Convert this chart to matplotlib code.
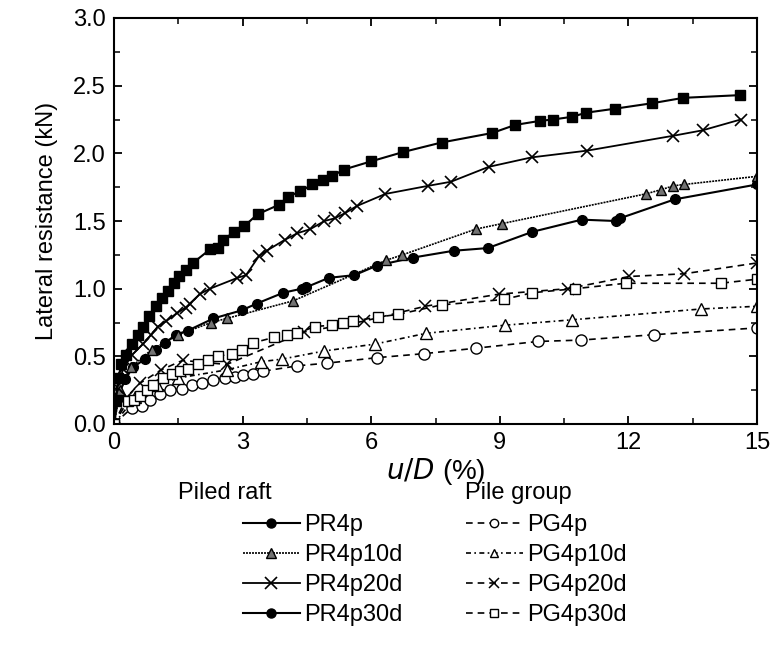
import matplotlib
matplotlib.use("Agg")
import matplotlib.pyplot as plt
import matplotlib.ticker as mticker
from matplotlib.lines import Line2D

plt.rcParams.update({
    "font.family": ["Liberation Sans Narrow", "Liberation Sans", "DejaVu Sans"],
    "axes.linewidth": 1.5,
    "xtick.direction": "in",
    "ytick.direction": "in",
    "xtick.top": True,
    "ytick.right": True,
})

# Piled raft series (u/D %, lateral resistance kN)
pr4p_x = [0, 0.1, 0.25, 0.45, 0.72, 0.97, 1.2, 1.44, 1.72, 2.32, 2.98, 3.33, 3.95,
          4.38, 4.48, 5.01, 5.61, 6.13, 6.98, 7.92, 8.72, 9.76, 10.91, 11.7, 11.8, 13.08, 15.0]
pr4p_y = [0, 0.2, 0.33, 0.42, 0.48, 0.55, 0.6, 0.66, 0.69, 0.78, 0.84, 0.89, 0.97,
          1.0, 1.01, 1.08, 1.1, 1.17, 1.23, 1.28, 1.3, 1.42, 1.51, 1.5, 1.52, 1.66, 1.77]

pr4p10d_x = [0, 0.15, 0.4, 0.88, 1.5, 2.27, 2.63, 4.18, 6.35, 6.73, 8.44, 9.04,
             12.4, 12.75, 13.05, 13.3, 15.0]
pr4p10d_y = [0, 0.25, 0.42, 0.55, 0.66, 0.75, 0.78, 0.91, 1.21, 1.25, 1.44, 1.48,
             1.7, 1.73, 1.76, 1.77, 1.83]

pr4p20d_x = [0, 0.07, 0.22, 0.42, 0.67, 0.87, 1.02, 1.22, 1.47, 1.67, 1.77, 2.0, 2.24,
             2.88, 3.08, 3.38, 3.56, 3.98, 4.28, 4.58, 4.91, 5.15, 5.4, 5.66, 6.33,
             7.33, 7.86, 8.74, 9.74, 11.04, 13.05, 13.73, 14.62]
pr4p20d_y = [0, 0.27, 0.41, 0.51, 0.59, 0.66, 0.72, 0.76, 0.82, 0.86, 0.89, 0.96, 1.0,
             1.08, 1.1, 1.24, 1.28, 1.36, 1.41, 1.44, 1.5, 1.52, 1.56, 1.61, 1.7,
             1.76, 1.79, 1.9, 1.97, 2.02, 2.13, 2.17, 2.25]

pr4p30d_x = [0, 0.04, 0.1, 0.17, 0.27, 0.42, 0.57, 0.67, 0.82, 0.97, 1.12, 1.27, 1.4,
             1.52, 1.67, 1.84, 2.24, 2.43, 2.55, 2.8, 3.03, 3.35, 3.85, 4.06, 4.35,
             4.63, 4.88, 5.08, 5.36, 5.99, 6.75, 7.64, 8.82, 9.36, 9.94, 10.24, 10.69,
             11.01, 11.69, 12.55, 13.28, 14.6]
pr4p30d_y = [0, 0.17, 0.34, 0.44, 0.51, 0.59, 0.66, 0.72, 0.8, 0.87, 0.93, 0.98, 1.04,
             1.09, 1.14, 1.19, 1.29, 1.3, 1.36, 1.42, 1.46, 1.55, 1.62, 1.68, 1.72,
             1.77, 1.8, 1.83, 1.88, 1.94, 2.01, 2.08, 2.15, 2.21, 2.24, 2.25, 2.27,
             2.3, 2.33, 2.37, 2.41, 2.43]

# Pile group series
pg4p_x = [0, 0.42, 0.65, 0.84, 1.07, 1.31, 1.58, 1.81, 2.05, 2.32, 2.59, 2.82, 3.02,
          3.25, 3.48, 4.28, 4.98, 6.13, 7.24, 8.44, 9.89, 10.89, 12.6, 15.0]
pg4p_y = [0, 0.12, 0.13, 0.18, 0.22, 0.25, 0.26, 0.29, 0.305, 0.325, 0.34, 0.345, 0.36,
          0.37, 0.39, 0.43, 0.45, 0.49, 0.52, 0.56, 0.61, 0.62, 0.66, 0.71]

pg4p10d_x = [0, 0.5, 1.0, 1.5, 2.63, 3.43, 3.93, 4.91, 6.08, 7.28, 9.12, 10.69, 13.7, 15.0]
pg4p10d_y = [0, 0.2, 0.29, 0.34, 0.4, 0.46, 0.48, 0.54, 0.59, 0.67, 0.73, 0.77, 0.85, 0.87]

pg4p20d_x = [0, 0.3, 0.6, 1.1, 1.6, 2.63, 4.43, 5.83, 7.26, 8.99, 10.59, 12.02, 13.3, 15.0]
pg4p20d_y = [0, 0.2, 0.3, 0.4, 0.47, 0.44, 0.68, 0.76, 0.87, 0.96, 1.0, 1.09, 1.11, 1.19]

pg4p30d_x = [0, 0.32, 0.47, 0.61, 0.76, 0.92, 1.15, 1.35, 1.54, 1.73, 1.97, 2.2, 2.43,
             2.75, 2.98, 3.25, 3.73, 4.03, 4.28, 4.68, 5.08, 5.35, 5.58, 6.15, 6.63,
             7.64, 9.09, 9.76, 10.76, 11.94, 14.15, 15.0]
pg4p30d_y = [0, 0.17, 0.18, 0.21, 0.25, 0.29, 0.34, 0.37, 0.39, 0.41, 0.44, 0.47, 0.5,
             0.52, 0.55, 0.6, 0.64, 0.66, 0.67, 0.72, 0.73, 0.75, 0.76, 0.79, 0.81,
             0.88, 0.92, 0.97, 1.0, 1.04, 1.04, 1.07]

fig = plt.figure(figsize=(7.75, 6.48), dpi=100)
ax = fig.add_axes([114 / 775, 1 - 424 / 648, 643 / 775, 406 / 648])

dotline = (0, (1.2, 0.6))
dashed = (0, (4, 3))
shortdash = (0, (3, 2, 1, 2))

ax.plot(pr4p_x, pr4p_y, "-", color="black", lw=1.5, marker="o", ms=7)
ax.plot(pr4p10d_x, pr4p10d_y, color="black", ls=dotline, lw=1.2, marker="^", ms=7,
        mfc="0.45", mec="black")
ax.plot(pr4p20d_x, pr4p20d_y, "-", color="black", lw=1.3, marker="x", ms=9, mew=1.2)
ax.plot(pr4p30d_x, pr4p30d_y, "-", color="black", lw=1.5, marker="s", ms=7)

ax.plot(pg4p_x, pg4p_y, color="black", ls=dashed, lw=1.2, marker="o", ms=8, mfc="white")
ax.plot(pg4p10d_x, pg4p10d_y, color="black", ls=shortdash, lw=1.2, marker="^", ms=8, mfc="white")
ax.plot(pg4p20d_x, pg4p20d_y, color="black", ls=dashed, lw=1.2, marker="x", ms=9, mew=1.1)
ax.plot(pg4p30d_x, pg4p30d_y, color="black", ls=dashed, lw=1.2, marker="s", ms=7.5, mfc="white")

ax.set_xlim(0, 15)
ax.set_ylim(0, 3.0)
ax.xaxis.set_major_locator(mticker.MultipleLocator(3))
ax.xaxis.set_minor_locator(mticker.MultipleLocator(1.5))
ax.yaxis.set_major_locator(mticker.MultipleLocator(0.5))
ax.yaxis.set_minor_locator(mticker.MultipleLocator(0.25))
ax.yaxis.set_major_formatter(mticker.FormatStrFormatter("%.1f"))
ax.tick_params(which="major", length=6, width=1.3, labelsize=17, pad=6)
ax.tick_params(which="minor", length=4, width=1.1)

ax.set_ylabel("Lateral resistance (kN)", fontsize=17, family="Liberation Sans", labelpad=11)
ax.set_xlabel(r"$\it{u/D}$ (%)", fontsize=20, family="Liberation Sans", labelpad=1)

# legends, two columns with their own headers
fig.text(178 / 775, 1 - 493 / 648, "Piled raft", fontsize=17, family="Liberation Sans",
         va="center", ha="left")
fig.text(465 / 775, 1 - 493 / 648, "Pile group", fontsize=17, family="Liberation Sans",
         va="center", ha="left")

pr_handles = [
    Line2D([], [], color="black", lw=1.5, marker="o", ms=6.5),
    Line2D([], [], color="black", ls=dotline, lw=1.2, marker="^", ms=7, mfc="0.45", mec="black"),
    Line2D([], [], color="black", lw=1.3, marker="x", ms=9, mew=1.2),
    Line2D([], [], color="black", lw=1.5, marker="o", ms=6.5),
]
pr_labels = ["PR4p", "PR4p10d", "PR4p20d", "PR4p30d"]
pg_handles = [
    Line2D([], [], color="black", ls=dashed, lw=1.2, marker="o", ms=6, mfc="white"),
    Line2D([], [], color="black", ls=shortdash, lw=1.2, marker="^", ms=6, mfc="white"),
    Line2D([], [], color="black", ls=dashed, lw=1.2, marker="x", ms=7, mew=1.1),
    Line2D([], [], color="black", ls=dashed, lw=1.2, marker="s", ms=6, mfc="white"),
]
pg_labels = ["PG4p", "PG4p10d", "PG4p20d", "PG4p30d"]

leg_kw = dict(frameon=False, loc="upper left", borderpad=0, borderaxespad=0,
              handlelength=2.4, handletextpad=0.2, labelspacing=0.34,
              prop={"family": "Liberation Sans", "size": 17})
fig.legend(pr_handles, pr_labels, bbox_to_anchor=(243 / 775, 1 - 514 / 648), **leg_kw)
fig.legend(pg_handles, pg_labels, bbox_to_anchor=(466 / 775, 1 - 514 / 648), **leg_kw)

fig.savefig("out.png", dpi=100)
